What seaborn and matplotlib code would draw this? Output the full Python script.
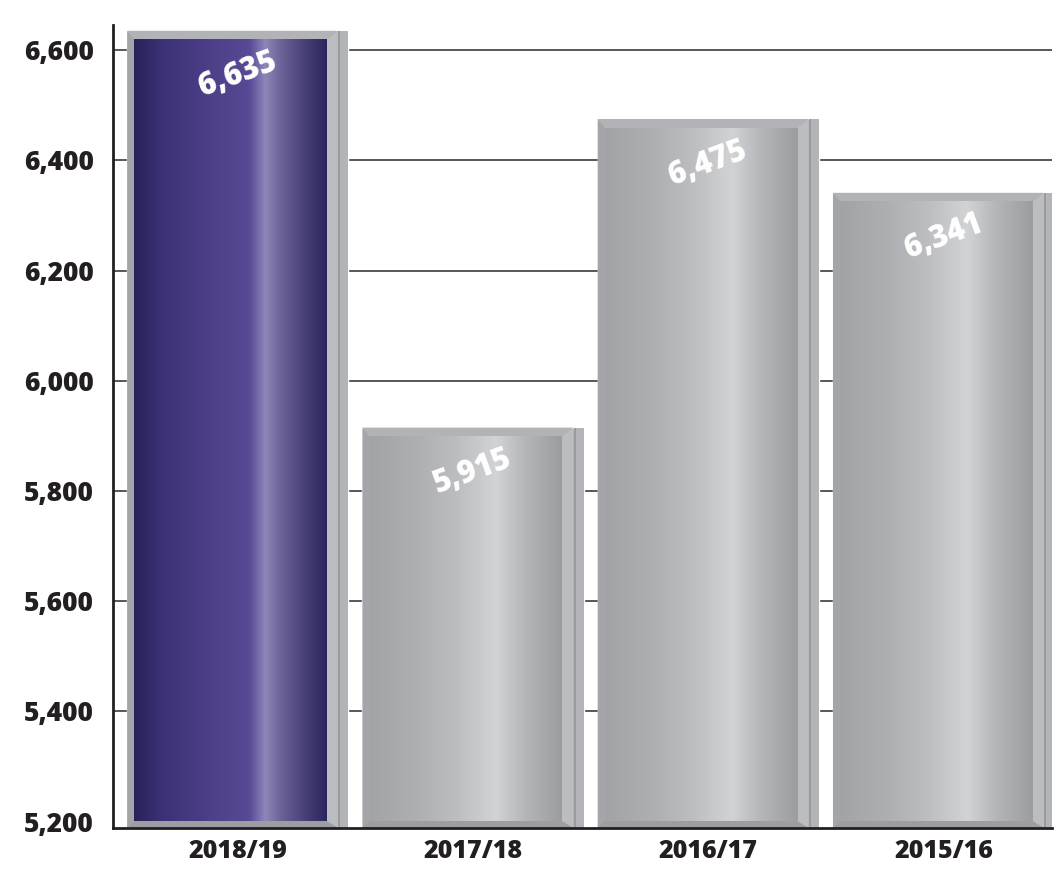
import numpy as np
import pandas as pd
import matplotlib
matplotlib.use("Agg")
import matplotlib.pyplot as plt
import seaborn as sns
from matplotlib.colors import LinearSegmentedColormap
from matplotlib.patches import Polygon

# Data
seasons = ["2018/19", "2017/18", "2016/17", "2015/16"]
values = [6635, 5915, 6475, 6341]
value_labels = ["6,635", "5,915", "6,475", "6,341"]
y_ticks = [5200, 5400, 5600, 5800, 6000, 6200, 6400, 6600]
y_tick_labels = ["5,200", "5,400", "5,600", "5,800", "6,000", "6,200", "6,400", "6,600"]
highlight = "2018/19"

sns.set_theme(style="white")
plt.rcParams["font.family"] = ["Open Sans", "DejaVu Sans"]

fig = plt.figure(figsize=(10.56, 8.72), dpi=100)
ax = fig.add_axes([0.107, 0.0505, 0.889, 0.9205])

df = pd.DataFrame({"season": seasons, "value": values})
sns.barplot(data=df, x="season", y="value", ax=ax, color="#a8a9ac",
            saturation=1, width=0.94, zorder=2)

XLIM = (-0.53, 3.46)
YLIM = (5188.6, 6645)
ax.set_xlim(*XLIM)
ax.set_ylim(*YLIM)

# Gradients for the bar faces
grey_cmap = LinearSegmentedColormap.from_list("steel", [
    (0.00, "#a2a3a6"), (0.25, "#aeafb2"), (0.45, "#bcbdc0"),
    (0.66, "#d2d3d5"), (0.82, "#b3b4b7"), (1.00, "#9c9da0")])
purple_cmap = LinearSegmentedColormap.from_list("violet", [
    (0.00, "#29225a"), (0.15, "#3c3277"), (0.40, "#4d3f88"),
    (0.60, "#5a4996"), (0.68, "#8e87b8"), (0.76, "#6d6398"),
    (0.88, "#4a4279"), (1.00, "#2b265e")])
grad = np.linspace(0, 1, 256).reshape(1, -1)

inv = ax.transData.inverted()


def to_data(pts):
    return inv.transform(np.asarray(pts, dtype=float))


def add_poly(pts, color, z):
    ax.add_patch(Polygon(to_data(pts), closed=True, facecolor=color,
                         edgecolor="none", zorder=z))


y_base = ax.transAxes.transform((0, 0))[1]
for season, patch in zip(seasons, ax.patches):
    x0 = patch.get_x()
    w = patch.get_width()
    top = patch.get_y() + patch.get_height()
    X0, Yt = ax.transData.transform((x0, top))
    X1, _ = ax.transData.transform((x0 + w, top))
    Yb = y_base
    side = 10
    XR = X1 - side
    fx0, fx1 = X0 + 7, XR - 12
    fy0, fy1 = Yb + 7, Yt - 9

    # bevelled frame
    add_poly([(X0, Yt), (XR, Yt), (fx1, fy1), (fx0, fy1)], "#b2b3b6", 3)
    add_poly([(X0, Yt), (fx0, fy1), (fx0, fy0), (X0, Yb)], "#a4a5a8", 3)
    add_poly([(XR, Yt), (XR, Yb), (fx1, fy0), (fx1, fy1)], "#bcbdc0", 3)
    add_poly([(X0, Yb), (fx0, fy0), (fx1, fy0), (XR, Yb)], "#9d9ea1", 3)
    # side strip
    add_poly([(XR, Yt), (X1, Yt), (X1, Yb), (XR, Yb)], "#b3b4b7", 3)
    add_poly([(XR, Yt), (XR + 2, Yt), (XR + 2, Yb), (XR, Yb)], "#9a9b9e", 3)

    # gradient face
    (dx0, dy0), (dx1, dy1) = to_data([(fx0, fy0), (fx1, fy1)])
    cmap = purple_cmap if season == highlight else grey_cmap
    ax.imshow(grad, extent=(dx0, dx1, dy0, dy1), aspect="auto", cmap=cmap,
              interpolation="bicubic", zorder=4)

# Value labels
for i, (v, lab) in enumerate(zip(values, value_labels)):
    ax.annotate(lab, xy=(i, v), xytext=(0, -32), textcoords="offset points",
                ha="center", va="center", rotation=20, color="white",
                fontsize=22, fontweight="heavy", zorder=6)

ax.set_xlim(*XLIM)
ax.set_ylim(*YLIM)

# Grid lines (no line at the baseline value)
for t in y_ticks[1:]:
    ax.axhline(t, color="#4a4a4c", lw=1.3, zorder=1)

ax.set_yticks(y_ticks)
ax.set_yticklabels(y_tick_labels)
ax.set_xlabel("")
ax.set_ylabel("")
ax.tick_params(axis="y", length=0, pad=14, labelsize=19, labelcolor="#231f20")
ax.tick_params(axis="x", length=0, pad=8, labelsize=18, labelcolor="#231f20")
for lab in ax.get_yticklabels() + ax.get_xticklabels():
    lab.set_fontweight("heavy")

for side_name in ["top", "right"]:
    ax.spines[side_name].set_visible(False)
for side_name in ["left", "bottom"]:
    ax.spines[side_name].set_color("#231f20")
    ax.spines[side_name].set_linewidth(2)
    ax.spines[side_name].set_zorder(7)

fig.savefig("out.png", dpi=100, facecolor="white")
